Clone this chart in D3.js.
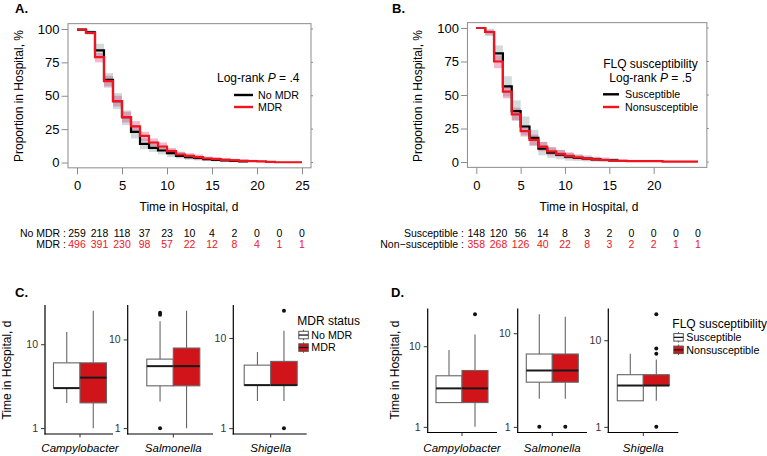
<!DOCTYPE html>
<html><head><meta charset="utf-8">
<script src="https://cdn.jsdelivr.net/npm/d3@7"></script>
<style>body{margin:0;background:#fff} text{font-family:"Liberation Sans",Arial,Helvetica,sans-serif}</style>
</head><body><svg id="c" width="767" height="456" xmlns="http://www.w3.org/2000/svg"></svg>
<script>
// ---------- DATA ----------
// Kaplan-Meier survival (% still in hospital) at start of each day 0,1,2,...
const kmA_noMDR    = [99.5,97.5,84,62,46,34,23,14,11,9,7,5,4,3.5,2.5,2,1.5,1.2,0.8];
const kmA_noMDR_lo = [99,96,79,56,40,28,18,10,8,6,4,3,2,1.5,1,0.7,0.4,0.2,0.1];
const kmA_noMDR_hi = [100,99,89,67,52,39,28,18,15,12,10,8,6,5,4,3.5,3,2.5,2];
const kmA_noMDR_end = 19;
const kmA_MDR      = [99.5,97,79,61,46,34,27,20,15,12,8.5,6,5,4,3,2.5,2,1.6,1.2,1,0.8,0.4,0.2,0.2,0.2];
const kmA_MDR_lo   = [99,96,75,57,42,30,23,16,12,9,6,4,3,2,1.5,1.2,0.8,0.6,0.4,0.3,0.2,0.1,0,0,0];
const kmA_MDR_hi   = [100,98.5,82,65,50,38,31,23,18,15,11,8,7,6,4.5,4,3.3,2.8,2.3,2,1.6,1,0.8,0.8,0.8];
const kmA_MDR_end = 25;

const kmB_S     = [100,97,81,56.5,38,26.5,18,10,7,5.5,4,3,2.5,2,1.5,1.2];
const kmB_S_lo  = [100,94,75,49,31,20,12,5,3,2,1,0.7,0.4,0.2,0.1,0];
const kmB_S_hi  = [100,99.5,87,64,46,34,24,15,11,9,7,5.5,5,4,3.5,3];
const kmB_S_end = 16;
const kmB_NS    = [100,97,75,52.5,35.5,23,16.5,11.5,8,6,4.5,3.5,2.5,2,1.5,1,0.8,0.6,0.6,0.6,0.6,0.3,0.3,0.3,0.3];
const kmB_NS_lo = [100,95,70,47.5,31,19,12.5,8,5,4,2.5,2,1.2,0.8,0.5,0.3,0.2,0.1,0.1,0.1,0.1,0,0,0,0];
const kmB_NS_hi = [100,98.5,79.5,57.5,40.5,27.5,20.5,15,11,9,7,5.5,4,3.5,3,2.2,2,1.6,1.6,1.6,1.6,1,1,1,1];
const kmB_NS_end = 25;

const kmTicksA = [0,5,10,15,20,25];
const kmTicksB = [0,5,10,15,20];
const kmTicksY = [0,25,50,75,100];

// Numbers at risk
const riskTimes   = [0,2.5,5,7.5,10,12.5,15,17.5,20,22.5,25];
const riskA_noMDR = [259,218,118,37,23,10,4,2,0,0,0];
const riskA_MDR   = [496,391,230,98,57,22,12,8,4,1,1];
const riskB_S     = [148,120,56,14,8,3,2,0,0,0,0];
const riskB_NS    = [358,268,126,40,22,8,3,2,2,1,1];

// Boxplots: [lower whisker, Q1, median, Q3, upper whisker]
const pathogens = ["Campylobacter","Salmonella","Shigella"];
const boxC_noMDR = [[2,3,3,6,14],[2,3,5,6,16],[2,3,3,5,7]];
const boxC_MDR   = [[1,2,4,6,25],[1,3,5,8,21],[2,3,3,5.5,12]];
const outC_noMDR = [[],[1,19,20],[]];
const outC_MDR   = [[],[],[1,20]];
const boxD_S     = [[2,2,3,4.3,9],[2,3,4,6,16],[2,2,3,4,7]];
const boxD_NS    = [[1,2,3,5,14],[2,3,4,6,15],[2,3,3,4,6]];
const outD_S     = [[],[1],[]];
const outD_NS    = [[25],[1],[1,7,8,20]];

// ---------- DRAW ----------
const svg = d3.select("#c");
const FONT = '"Liberation Sans",Arial,Helvetica,sans-serif';
const RED = "#f0141e", BOXRED = "#d0141a", FRAME = "#8c8c8c";

function drawKM(cfg){
  const x = d3.scaleLinear([0,25], cfg.xr);
  const y = d3.scaleLinear([0,100], cfg.yr);
  const fx0 = x(-1), fx1 = x(26), fy0 = y(104), fy1 = y(-4);
  cfg.curves.forEach(c => {
    svg.append("g").selectAll("rect").data(c.lo).join("rect")
      .attr("x",(d,i)=>x(i)).attr("width",(d,i)=>x(i+1)-x(i))
      .attr("y",(d,i)=>y(c.hi[i])).attr("height",(d,i)=>Math.max(0.8,y(d)-y(c.hi[i])))
      .attr("fill",c.band);
  });
  cfg.curves.forEach(c => {
    const pts = c.s.map((v,i)=>[i,v]); pts.push([c.end, c.s[c.s.length-1]]);
    svg.append("path")
      .attr("d", d3.line().x(d=>x(d[0])).y(d=>y(d[1])).curve(d3.curveStepAfter)(pts))
      .attr("fill","none").attr("stroke",c.color).attr("stroke-width",2.2);
  });
  svg.append("rect").attr("x",fx0).attr("y",fy0).attr("width",fx1-fx0).attr("height",fy1-fy0)
    .attr("fill","none").attr("stroke",FRAME).attr("stroke-width",1);
  const ax = svg.append("g").attr("transform",`translate(0,${fy1})`)
    .call(d3.axisBottom(x).tickValues(cfg.xt).tickSize(6.5).tickPadding(6.5).tickFormat(d3.format("d")));
  ax.select(".domain").remove();
  ax.selectAll("line").attr("stroke",FRAME);
  ax.attr("font-family",FONT).attr("font-size",13);
  ax.selectAll("text").attr("fill","#000");
  const ay = svg.append("g").attr("transform",`translate(${fx0},0)`)
    .call(d3.axisLeft(y).tickValues(kmTicksY).tickSize(6.5).tickPadding(2).tickFormat(d3.format("d")));
  ay.select(".domain").remove();
  ay.selectAll("line").attr("stroke",FRAME);
  ay.attr("font-family",FONT).attr("font-size",13);
  ay.selectAll("text").attr("fill","#000");
  svg.append("g").selectAll("line").data(kmTicksY).join("line")
    .attr("x1",fx1).attr("x2",fx1+2).attr("y1",d=>y(d)).attr("y2",d=>y(d)).attr("stroke",FRAME);
  // titles
  svg.append("text").attr("x",cfg.titleX).attr("y",12.7).attr("font-size",13).attr("font-weight","bold").text(cfg.title);
  svg.append("text").attr("transform",`translate(${cfg.ylabX},96) rotate(-90)`).attr("text-anchor","middle")
    .attr("font-size",12).text("Proportion in Hospital, %");
  svg.append("text").attr("x",cfg.xlabX).attr("y",211).attr("text-anchor","middle").attr("font-size",12)
    .text("Time in Hospital, d");
  // risk table
  cfg.risk.forEach((r,k) => {
    const yy = 236.7 + k*11.5;
    svg.append("text").attr("x",cfg.riskLabX).attr("y",yy).attr("text-anchor","end").attr("font-size",10.5)
      .attr("fill","#000").text(r.label);
    svg.append("g").selectAll("text").data(r.vals).join("text")
      .attr("x",(d,i)=>x(riskTimes[i])).attr("y",yy).attr("text-anchor","middle").attr("font-size",10.5)
      .attr("fill",r.color).text(d=>d);
  });
  return {x,y};
}

drawKM({xr:[77,302], yr:[162.5,29], xt:kmTicksA, title:"A.", titleX:15, ylabX:22.5, xlabX:189, riskLabX:66,
  curves:[
    {s:kmA_noMDR, lo:kmA_noMDR_lo, hi:kmA_noMDR_hi, end:kmA_noMDR_end, color:"#000", band:"rgba(105,135,135,0.3)"},
    {s:kmA_MDR, lo:kmA_MDR_lo, hi:kmA_MDR_hi, end:kmA_MDR_end, color:RED, band:"rgba(215,40,110,0.33)"}],
  risk:[{label:"No MDR :", vals:riskA_noMDR, color:"#000"},{label:"MDR :", vals:riskA_MDR, color:RED}]});

drawKM({xr:[476.3,698], yr:[162,28], xt:kmTicksB, title:"B.", titleX:392, ylabX:421.5, xlabX:589, riskLabX:464,
  curves:[
    {s:kmB_S, lo:kmB_S_lo, hi:kmB_S_hi, end:kmB_S_end, color:"#000", band:"rgba(105,135,135,0.3)"},
    {s:kmB_NS, lo:kmB_NS_lo, hi:kmB_NS_hi, end:kmB_NS_end, color:RED, band:"rgba(215,40,110,0.33)"}],
  risk:[{label:"Susceptible :", vals:riskB_S, color:"#000"},{label:"Non\u2212susceptible :", vals:riskB_NS, color:RED}]});

// KM legends
function pText(x, y, anchor, pre, post){
  const t = svg.append("text").attr("x",x).attr("y",y).attr("text-anchor",anchor).attr("font-size",12);
  t.append("tspan").text(pre);
  t.append("tspan").attr("font-style","italic").text("P");
  t.append("tspan").text(post);
}
pText(217, 82.3, "start", "Log-rank ", " = .4");
[["No MDR","#000",95],["MDR",RED,107]].forEach(([lab,col,yy])=>{
  svg.append("line").attr("x1",234).attr("x2",253).attr("y1",yy).attr("y2",yy).attr("stroke",col).attr("stroke-width",2.4);
  svg.append("text").attr("x",258).attr("y",yy+3.8).attr("font-size",10.7).text(lab);
});
svg.append("text").attr("x",650.5).attr("y",68.3).attr("text-anchor","middle").attr("font-size",12).text("FLQ susceptibility");
pText(650.5, 81.5, "middle", "Log-rank ", " = .5");
[["Susceptible","#000",94.3],["Nonsusceptible",RED,107]].forEach(([lab,col,yy])=>{
  svg.append("line").attr("x1",603).attr("x2",619).attr("y1",yy).attr("y2",yy).attr("stroke",col).attr("stroke-width",2.4);
  svg.append("text").attr("x",625).attr("y",yy+3.8).attr("font-size",10.7).text(lab);
});

// ---------- Boxplots ----------
function drawBoxPanel(cfg){
  cfg.facets.forEach((f,k) => {
    const groups = [
      {st:cfg.a[k], out:cfg.aOut[k], fill:"#fff", x0:f.cx - cfg.bw},
      {st:cfg.b[k], out:cfg.bOut[k], fill:BOXRED, x0:f.cx}];
    const vals = groups.flatMap(g => g.st.concat(g.out));
    const lmin = Math.log10(d3.min(vals)), lmax = Math.log10(d3.max(vals)), sp = lmax - lmin;
    const y = d3.scaleLog([10**(lmin-0.05*sp), 10**(lmax+0.05*sp)], [cfg.bottom, cfg.top]);
    const gx = svg.append("g");
    groups.forEach(g => {
      const [lo,q1,med,q3,hi] = g.st;
      const xc = g.x0 + cfg.bw/2;
      gx.append("line").attr("x1",xc).attr("x2",xc).attr("y1",y(q3)).attr("y2",y(hi)).attr("stroke","#666").attr("stroke-width",1.1);
      gx.append("line").attr("x1",xc).attr("x2",xc).attr("y1",y(q1)).attr("y2",y(lo)).attr("stroke","#666").attr("stroke-width",1.1);
      gx.append("rect").attr("x",g.x0).attr("width",cfg.bw).attr("y",y(q3)).attr("height",y(q1)-y(q3))
        .attr("fill",g.fill).attr("stroke","#666").attr("stroke-width",1.1);
      gx.append("line").attr("x1",g.x0).attr("x2",g.x0+cfg.bw).attr("y1",y(med)).attr("y2",y(med))
        .attr("stroke","#1a1a1a").attr("stroke-width",2);
      gx.selectAll(null).data(g.out).join("circle").attr("cx",xc).attr("cy",d=>y(d)).attr("r",2).attr("fill","#111");
    });
    // axes
    svg.append("line").attr("x1",f.ax).attr("x2",f.ax).attr("y1",cfg.top).attr("y2",cfg.bottom+0.6).attr("stroke","#000").attr("stroke-width",1.2);
    svg.append("line").attr("x1",f.ax-0.6).attr("x2",f.right).attr("y1",cfg.bottom).attr("y2",cfg.bottom).attr("stroke","#000").attr("stroke-width",1.2);
    svg.append("line").attr("x1",f.cx).attr("x2",f.cx).attr("y1",cfg.bottom).attr("y2",cfg.bottom+3.5).attr("stroke","#333").attr("stroke-width",1);
    const ay = svg.append("g").attr("transform",`translate(${f.ax},0)`)
      .call(d3.axisLeft(y).tickValues([1,10]).tickSize(4).tickPadding(3).tickFormat(d3.format("d")));
    ay.select(".domain").remove();
    ay.selectAll("line").attr("stroke","#333");
    ay.attr("font-family",FONT).attr("font-size",10.5);
    ay.selectAll("text").attr("fill","#333");
    svg.append("text").attr("x",f.cx).attr("y",452).attr("text-anchor","middle").attr("font-size",11.5)
      .attr("font-style","italic").text(pathogens[k]);
  });
  svg.append("text").attr("x",cfg.titleX).attr("y",297).attr("font-size",13).attr("font-weight","bold").text(cfg.title);
  svg.append("text").attr("transform",`translate(${cfg.ylabX},370) rotate(-90)`).attr("text-anchor","middle")
    .attr("font-size",12).text("Time in Hospital, d");
  // legend
  const L = cfg.legend;
  svg.append("text").attr("x",L.x).attr("y",L.y).attr("font-size",12).text(L.title);
  L.items.forEach((it,i) => {
    const top = L.y + 4.5 + i*12.5;
    const kx = L.x + 1.5, kw = 9.5;
    svg.append("line").attr("x1",kx+kw/2).attr("x2",kx+kw/2).attr("y1",top).attr("y2",top+10.5).attr("stroke","#555");
    svg.append("rect").attr("x",kx).attr("y",top+1.5).attr("width",kw).attr("height",7.5)
      .attr("fill",it.fill).attr("stroke","#555").attr("stroke-width",1);
    svg.append("line").attr("x1",kx).attr("x2",kx+kw).attr("y1",top+5.25).attr("y2",top+5.25).attr("stroke","#1a1a1a").attr("stroke-width",1.3);
    svg.append("text").attr("x",kx+kw+3).attr("y",top+9).attr("font-size",10.7).text(it.label);
  });
}

drawBoxPanel({
  a:boxC_noMDR, b:boxC_MDR, aOut:outC_noMDR, bOut:outC_MDR, bw:26.5, top:305, bottom:434,
  facets:[{ax:45,cx:80,right:113},{ax:127.7,cx:173.3,right:213},{ax:233.3,cx:270.7,right:306.7}],
  title:"C.", titleX:15, ylabX:10.5,
  legend:{x:297.3, y:325.3, title:"MDR status", items:[{label:"No MDR",fill:"#fff"},{label:"MDR",fill:BOXRED}]}
});
drawBoxPanel({
  a:boxD_S, b:boxD_NS, aOut:outD_S, bOut:outD_NS, bw:26, top:308.5, bottom:432.5,
  facets:[{ax:427.7,cx:462,right:497},{ax:517.7,cx:552.3,right:587},{ax:608.3,cx:643.3,right:678.3}],
  title:"D.", titleX:391, ylabX:399,
  legend:{x:672.3, y:327.6, title:"FLQ susceptibility", items:[{label:"Susceptible",fill:"#fff"},{label:"Nonsusceptible",fill:BOXRED}]}
});
</script></body></html>
